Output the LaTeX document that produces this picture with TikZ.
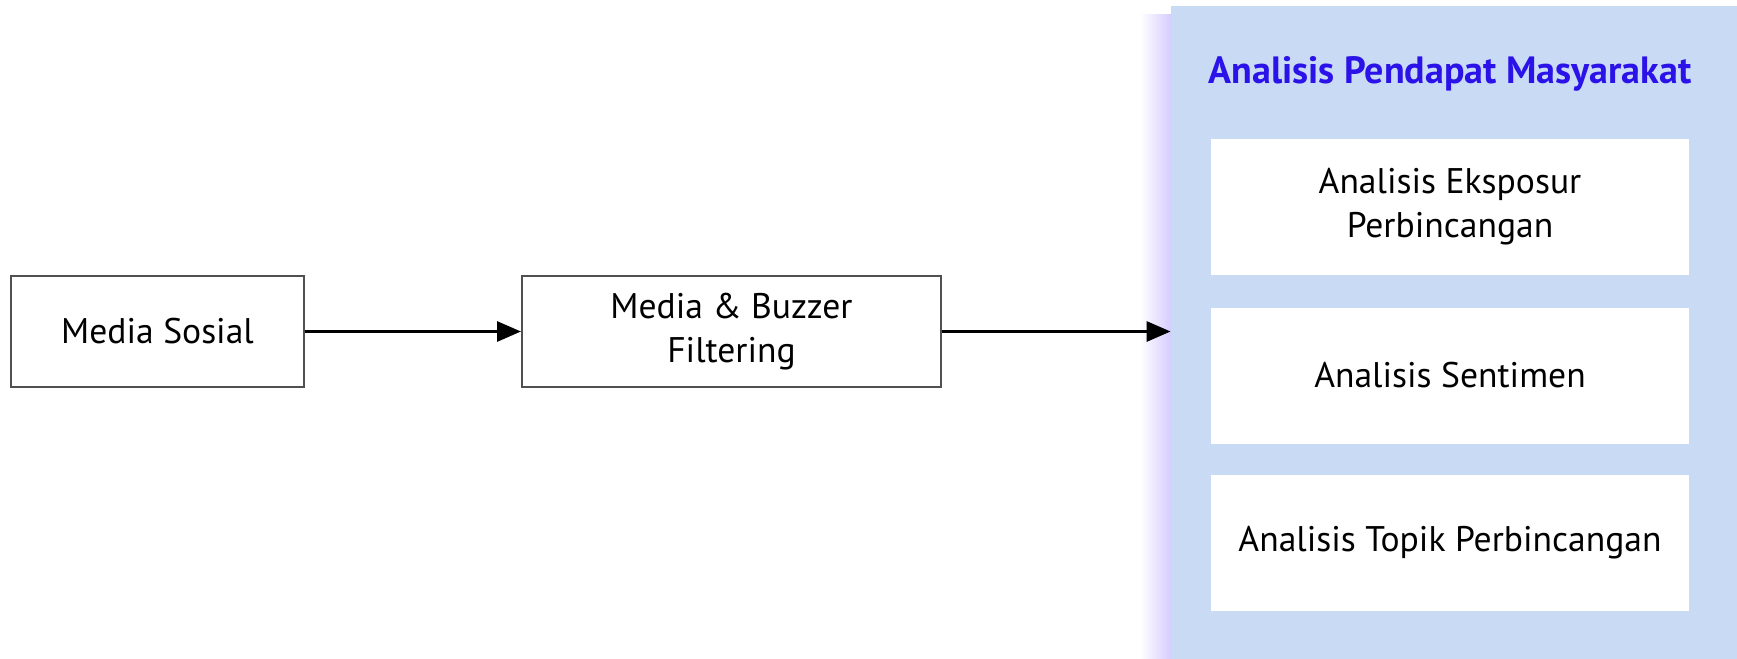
\documentclass[tikz,border=0pt]{standalone}
\usepackage{fontspec}
\setmainfont{PT Sans}
\usetikzlibrary{arrows.meta}
\definecolor{panelblue}{RGB}{201,218,245}
\definecolor{titleblue}{RGB}{42,18,232}
\definecolor{glow}{RGB}{214,204,255}
\definecolor{boxline}{RGB}{80,80,80}
\tikzset{
  flowbox/.style={draw=boxline,line width=1pt,fill=white,align=center,inner sep=0pt,
    font=\fontsize{17.8}{22}\selectfont,minimum height=55.5pt},
  subbox/.style={fill=white,align=center,inner sep=0pt,
    font=\fontsize{17.8}{22}\selectfont,minimum width=239pt,minimum height=68pt},
  flowarrow/.style={line width=1.5pt,-{Triangle[length=12pt,width=10pt]}},
}
\begin{document}
\begin{tikzpicture}[x=0.5pt,y=-0.5pt]
\useasboundingbox (0,0) rectangle (1737,659);
%% panel
\shade [left color=white,right color=glow] (1140,14) rectangle (1171,670);
\node (panel) at (1458,338) [fill=panelblue,minimum width=287pt,minimum height=332pt,inner sep=0pt] {};
\node (title) at (1450,74) [text=titleblue,font=\fontsize{19}{22}\selectfont\bfseries] {Analisis Pendapat Masyarakat};
\node (eksposur) at (1450,206.5) [subbox] {Analisis Eksposur\\Perbincangan};
\node (sentimen) at (1450,375.5) [subbox] {Analisis Sentimen};
\node (topik) at (1450,543) [subbox] {Analisis Topik Perbincangan};
%% flow
\node (sosial) at (157.5,331.5) [flowbox,minimum width=146.5pt] {Media Sosial};
\node (filter) at (731.5,331.5) [flowbox,minimum width=209.5pt] {Media \& Buzzer\\Filtering};
\draw [flowarrow] (sosial) -- (filter);
\draw [flowarrow] (filter.east) -- (filter.east -| panel.west);
%
\end{tikzpicture}
\end{document}
